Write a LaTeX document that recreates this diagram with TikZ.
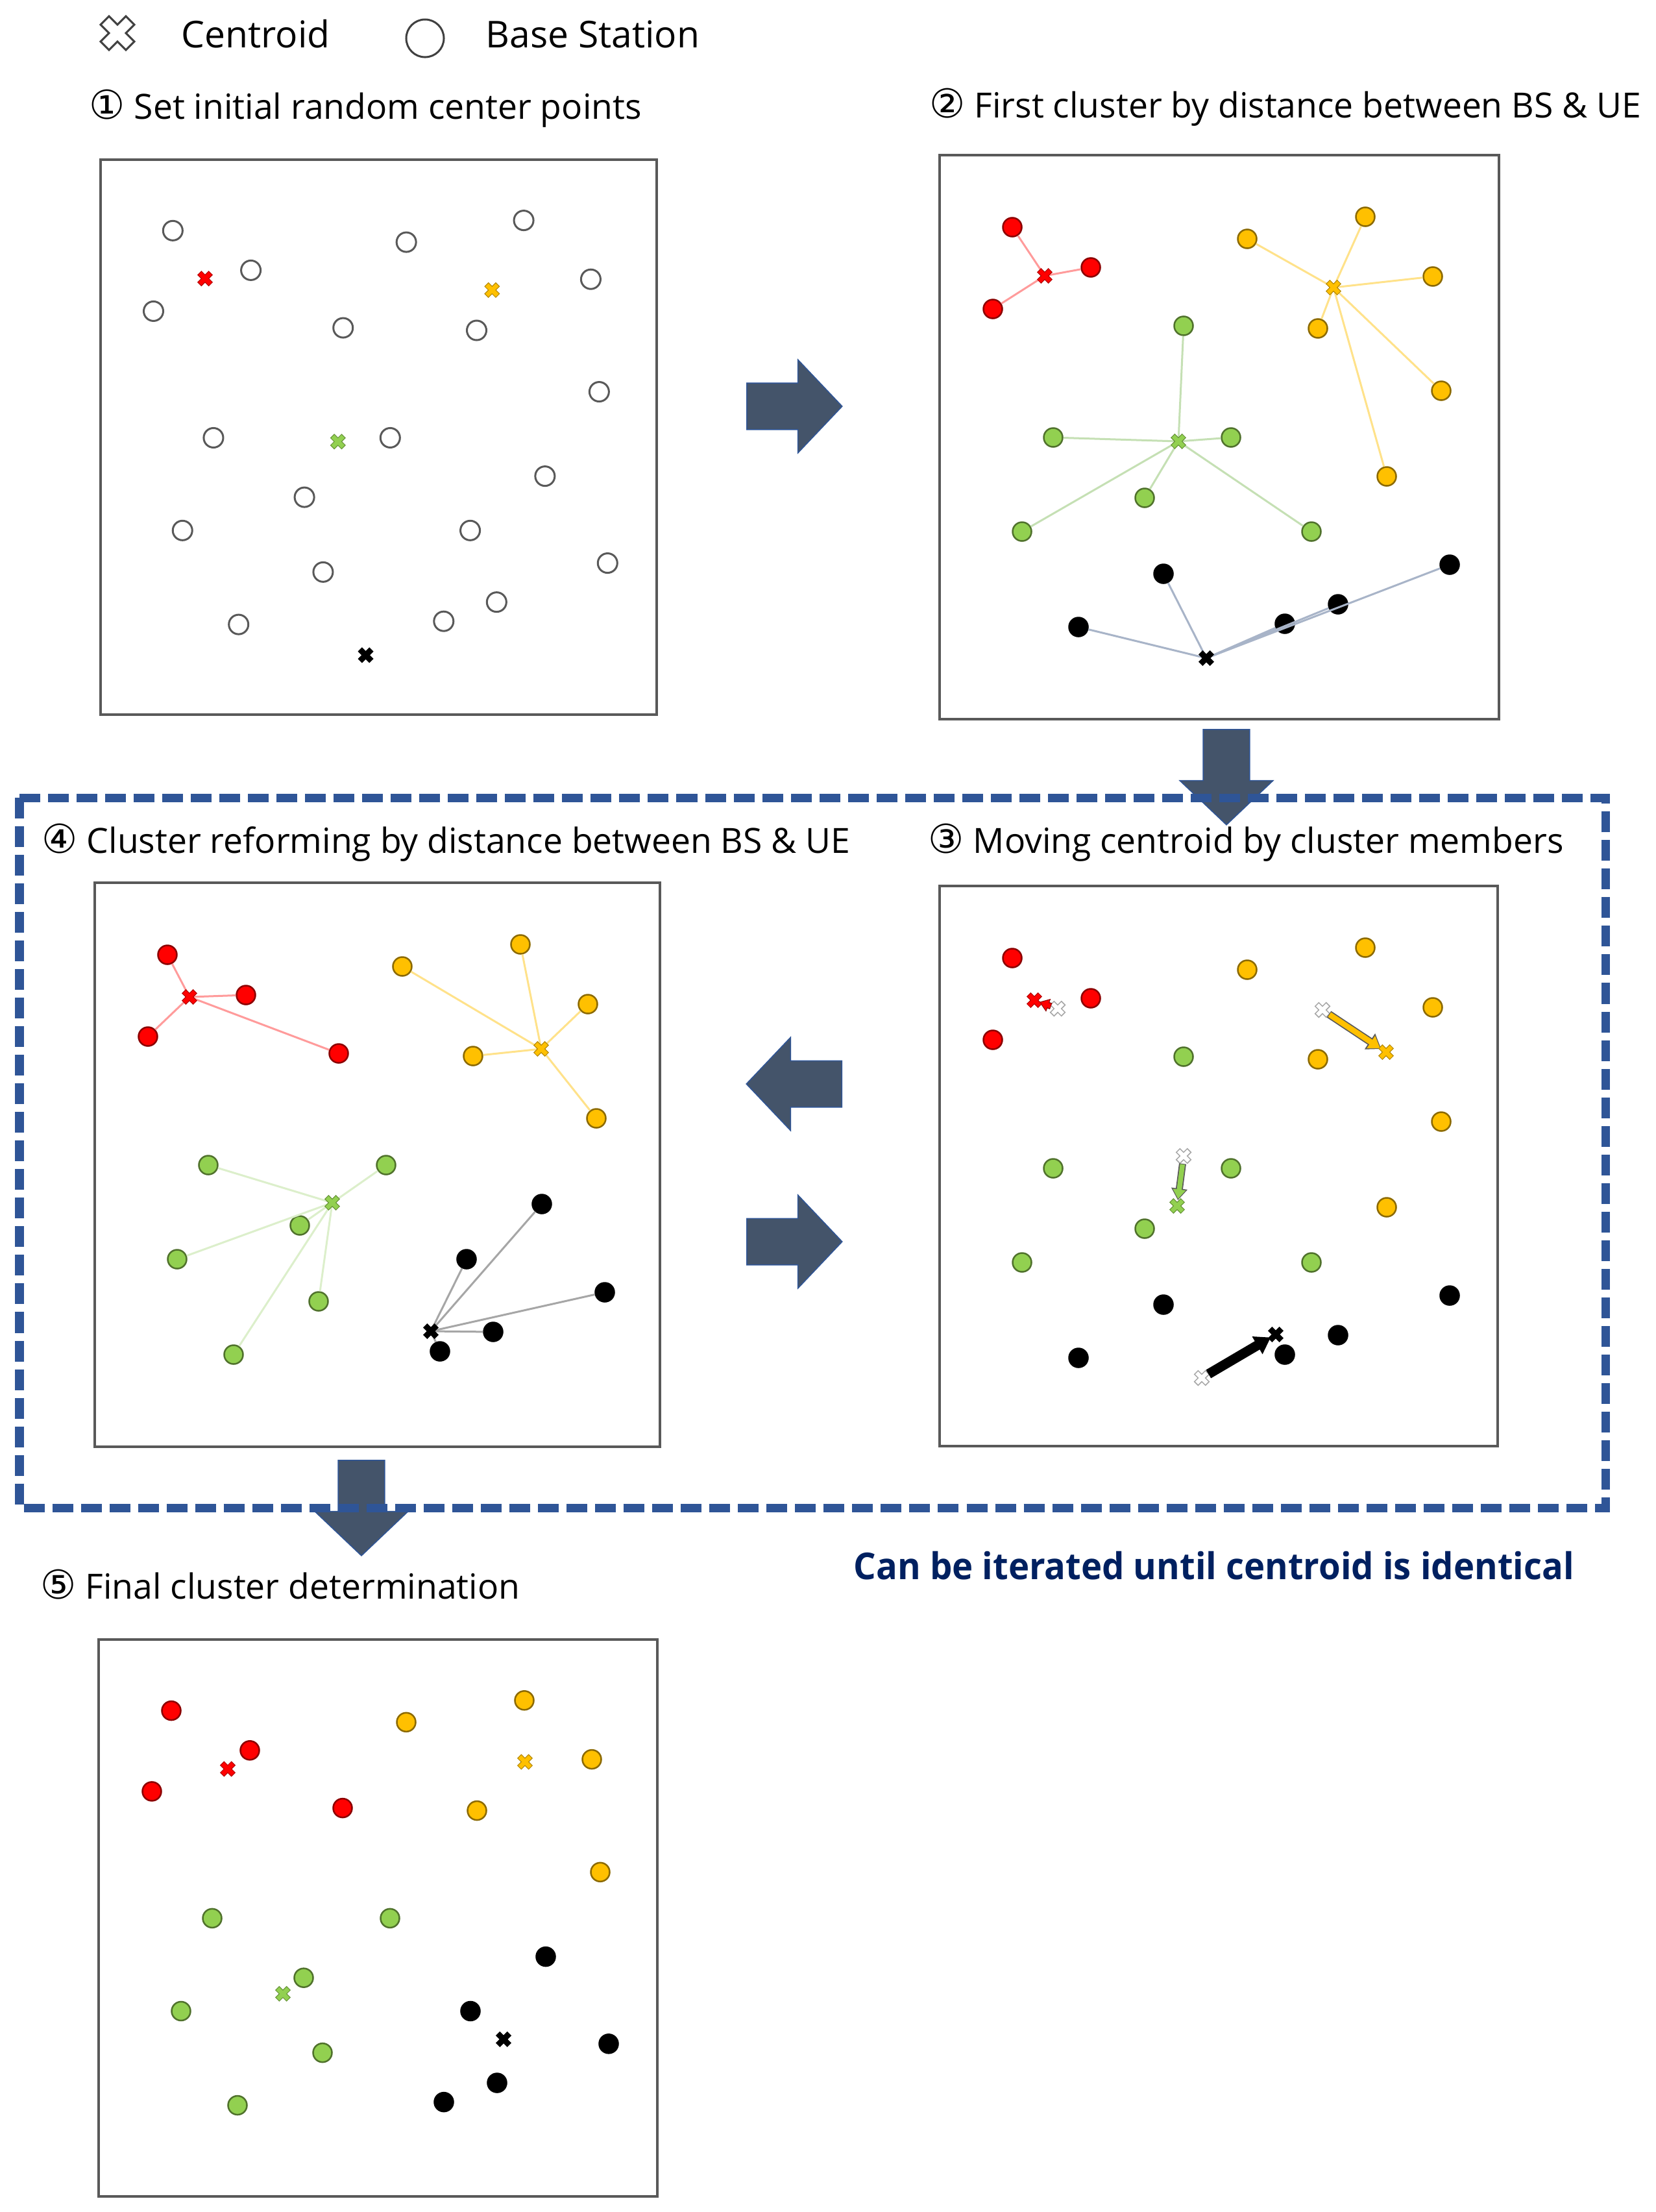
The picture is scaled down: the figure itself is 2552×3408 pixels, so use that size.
\documentclass[tikz,border=0pt]{standalone}
\usepackage{fontspec}
\setmainfont{Open Sans}
\newfontfamily\circfont{DejaVu Sans}
\usetikzlibrary{arrows.meta,shapes.arrows}
\definecolor{cred}{HTML}{FF0000}
\definecolor{corange}{HTML}{FFC000}
\definecolor{cgreen}{HTML}{92D050}
\definecolor{cblack}{HTML}{000000}
\definecolor{framec}{HTML}{595959}
\definecolor{flowc}{HTML}{44546A}
\definecolor{flowe}{HTML}{2F5597}
\definecolor{dashc}{HTML}{2F5597}
\definecolor{navy}{HTML}{002060}
\definecolor{lred}{HTML}{FF9B9B}
\definecolor{lorange}{HTML}{FFE28A}
\definecolor{lgreen}{HTML}{C5E0B4}
\definecolor{lgreenb}{HTML}{DCEFCB}
\definecolor{lblue}{HTML}{A8B4C8}
\definecolor{lgray}{HTML}{A6A6A6}
\def\bsA{1/112/111,2/474/129,3/656/95,4/233/173,5/760/187,6/82/237,7/376/263,8/583/267,9/773/363,10/175/435,11/449/435,12/689/495,13/316/528,14/127/580,15/573/580,16/786/631,17/345/645,18/614/692,19/214/727,20/532/722}
\def\bsB{1/112/111/cred,2/474/129/corange,3/656/95/corange,4/233/173/cred,5/760/187/corange,6/82/237/cred,7/376/263/cgreen,8/583/267/corange,9/773/363/corange,10/175/435/cgreen,11/449/435/cgreen,12/689/495/corange,13/316/528/cgreen,14/127/580/cgreen,15/573/580/cgreen,16/786/631/cblack,17/345/645/cblack,18/614/692/cblack,19/214/727/cblack,20/532/722/cblack}
\def\bsD{1/112/111/cred,2/474/129/corange,3/656/95/corange,4/233/173/cred,5/760/187/corange,6/82/237/cred,7/376/263/cred,8/583/267/corange,9/773/363/corange,10/175/435/cgreen,11/449/435/cgreen,12/689/495/cblack,13/316/528/cgreen,14/127/580/cgreen,15/573/580/cblack,16/786/631/cblack,17/345/645/cgreen,18/614/692/cblack,19/214/727/cgreen,20/532/722/cblack}
\newcommand\circd[1]{{\circfont\fontsize{17.5}{20}\selectfont #1}}
\tikzset{
  pics/xmark/.style={code={\path[pic actions, rotate=45] (-4,-12) -- (4,-12) -- (4,-4) -- (12,-4) -- (12,4) -- (4,4) -- (4,12) -- (-4,12) -- (-4,4) -- (-12,4) -- (-12,-4) -- (-4,-4) -- cycle;}},
  cx/.style={fill=#1, draw=#1!70!black, line width=0.01cm},
  oldx/.style={fill=white, draw=lgray, line width=0.015cm},
  bs/.style={circle, inner sep=0, minimum size=0.29cm, line width=0.025cm, fill=#1, draw=#1!55!black},
  bsempty/.style={circle, inner sep=0, minimum size=0.30cm, line width=0.03cm, draw=framec, fill=white},
  link/.style={line width=0.03cm, draw=#1},
  panelbox/.style={draw=framec, line width=0.04cm},
  flow/.style={single arrow, fill=flowc, draw=flowe, line width=0.015cm, inner xsep=0, inner ysep=0.35cm, minimum height=1.47cm, single arrow head extend=0.36cm, single arrow tip angle=93},
  mv/.style n args={4}{line width=#1, -{Triangle[length=#2,width=#3]}, draw=#4, fill=#4},
  ttl/.style={font=\fontsize{15.2}{18}\selectfont, inner sep=0, anchor=base west},
  leg/.style={font=\fontsize{16.2}{19}\selectfont, inner sep=0, anchor=base west},
}
\begin{document}
\begin{tikzpicture}[x=0.01cm, y=-0.01cm]
\useasboundingbox[fill=white] (0,0) rectangle (2552,3408);

% legend
\coordinate (legx) at (181,51);
\pic[fill=white, draw=black!75, line width=0.03cm, scale=2.3] at (legx) {xmark};
\node[leg] (legc) at (279,73) {Centroid};
\node[circle, draw=black!75, line width=0.03cm, minimum size=0.58cm, inner sep=0] (legbs) at (655,59) {};
\node[leg] (legb) at (748,73) {Base Station};

% titles
\node[ttl] (t1) at (137,183) {\circd{①} Set initial random center points};
\node[ttl] (t2) at (1432,181) {\circd{②} First cluster by distance between BS \& UE};
\node[ttl] (t4) at (64,1314) {\circd{④} Cluster reforming by distance between BS \& UE};
\node[ttl] (t3) at (1430,1314) {\circd{③} Moving centroid by cluster members};
\node[ttl] (t5) at (62,2463) {\circd{⑤} Final cluster determination};
\node[font=\bfseries\fontsize{16.2}{19}\selectfont, text=navy, inner sep=0, anchor=base west] (iter) at (1315,2433) {\scalebox{0.955}[1]{Can be iterated until centroid is identical}};

% ---------- panel 1
\draw[panelbox] (155,246) rectangle (1012,1101);
\begin{scope}[shift={(155,246)}, xscale=0.994, yscale=0.985]
  \foreach \n/\u/\v in \bsA {\node[bsempty] (a\n) at (\u,\v) {};}
  \coordinate (a-cr) at (162,186);
  \coordinate (a-co) at (607,204);
  \coordinate (a-cg) at (368,441);
  \coordinate (a-ck) at (411,775);
  \pic[cx=cred] at (a-cr) {xmark};
  \pic[cx=corange] at (a-co) {xmark};
  \pic[cx=cgreen] at (a-cg) {xmark};
  \pic[cx=cblack] at (a-ck) {xmark};
\end{scope}

% ---------- panel 2
\draw[panelbox] (1448,239) rectangle (2310,1108);
\begin{scope}[shift={(1448,239)}]
  \foreach \n/\u/\v/\c in \bsB {\node[bs=\c] (b\n) at (\u,\v) {};}
  \coordinate (b-cr) at (162,186);
  \coordinate (b-co) at (607,204);
  \coordinate (b-cg) at (368,441);
  \coordinate (b-ck) at (411,775);
  \foreach \m in {1,4,6} \draw[link=lred] (b-cr) -- (b\m);
  \foreach \m in {2,3,5,8,9,12} \draw[link=lorange] (b-co) -- (b\m);
  \foreach \m in {7,10,11,13,14,15} \draw[link=lgreen] (b-cg) -- (b\m);
  \foreach \m in {16,17,18,19,20} \draw[link=lblue] (b-ck) -- (b\m);
  \pic[cx=cred] at (b-cr) {xmark};
  \pic[cx=corange] at (b-co) {xmark};
  \pic[cx=cgreen] at (b-cg) {xmark};
  \pic[cx=cblack] at (b-ck) {xmark};
\end{scope}

% ---------- panel 3
\draw[panelbox] (1448,1365) rectangle (2308,2228);
\begin{scope}[shift={(1448,1365)}]
  \foreach \n/\u/\v/\c in \bsB {\node[bs=\c] (c\n) at (\u,\v) {};}
  \coordinate (c-or) at (182,189);
  \coordinate (c-oo) at (590,191);
  \coordinate (c-og) at (376,416);
  \coordinate (c-ok) at (404,758);
  \coordinate (c-nr) at (146,176);
  \coordinate (c-no) at (688,256);
  \coordinate (c-ng) at (366,493);
  \coordinate (c-nk) at (518,691);
  \pic[oldx] at (c-or) {xmark};
  \pic[oldx] at (c-oo) {xmark};
  \pic[oldx] at (c-og) {xmark};
  \pic[oldx] at (c-ok) {xmark};
  \draw[mv={0.10cm}{0.15cm}{0.20cm}{red!55!black}, shorten <=0.11cm, shorten >=0.08cm] (c-or) -- (c-nr);
  \draw[mv={0.07cm}{0.12cm}{0.16cm}{cred}, shorten <=0.12cm, shorten >=0.10cm] (c-or) -- (c-nr);
  \draw[mv={0.12cm}{0.21cm}{0.28cm}{black!65}, shorten <=0.12cm, shorten >=0.09cm] (c-oo) -- (c-no);
  \draw[mv={0.085cm}{0.17cm}{0.22cm}{corange}, shorten <=0.13cm, shorten >=0.11cm] (c-oo) -- (c-no);
  \draw[mv={0.11cm}{0.18cm}{0.24cm}{black!65}, shorten <=0.12cm, shorten >=0.09cm] (c-og) -- (c-ng);
  \draw[mv={0.075cm}{0.145cm}{0.19cm}{cgreen}, shorten <=0.13cm, shorten >=0.11cm] (c-og) -- (c-ng);
  \draw[mv={0.15cm}{0.24cm}{0.30cm}{black}, shorten <=0.12cm, shorten >=0.09cm] (c-ok) -- (c-nk);
  \pic[cx=cred] at (c-nr) {xmark};
  \pic[cx=corange] at (c-no) {xmark};
  \pic[cx=cgreen] at (c-ng) {xmark};
  \pic[cx=cblack] at (c-nk) {xmark};
\end{scope}

% ---------- panel 4
\draw[panelbox] (146,1360) rectangle (1017,2229);
\begin{scope}[shift={(146,1360)}]
  \foreach \n/\u/\v/\c in \bsD {\node[bs=\c] (d\n) at (\u,\v) {};}
  \coordinate (d-cr) at (146,176);
  \coordinate (d-co) at (688,256);
  \coordinate (d-cg) at (366,493);
  \coordinate (d-ck) at (518,691);
  \foreach \m in {1,4,6,7} \draw[link=lred] (d-cr) -- (d\m);
  \foreach \m in {2,3,5,8,9} \draw[link=lorange] (d-co) -- (d\m);
  \foreach \m in {10,11,13,14,17,19} \draw[link=lgreenb] (d-cg) -- (d\m);
  \foreach \m in {12,15,16,18,20} \draw[link=lgray] (d-ck) -- (d\m);
  \pic[cx=cred] at (d-cr) {xmark};
  \pic[cx=corange] at (d-co) {xmark};
  \pic[cx=cgreen] at (d-cg) {xmark};
  \pic[cx=cblack] at (d-ck) {xmark};
\end{scope}

% ---------- panel 5
\draw[panelbox] (152,2526) rectangle (1013,3384);
\begin{scope}[shift={(152,2526)}, yscale=0.987]
  \foreach \n/\u/\v/\c in \bsD {\node[bs=\c] (e\n) at (\u,\v) {};}
  \coordinate (e-cr) at (199,202);
  \coordinate (e-co) at (657,191);
  \coordinate (e-cg) at (284,553);
  \coordinate (e-ck) at (624,624);
  \pic[cx=cred] at (e-cr) {xmark};
  \pic[cx=corange] at (e-co) {xmark};
  \pic[cx=cgreen] at (e-cg) {xmark};
  \pic[cx=cblack] at (e-ck) {xmark};
\end{scope}

% ---------- flow arrows
\node[flow, anchor=tail] (f12) at (1150,626) {};
\node[flow, rotate=-90, anchor=tail] (f23) at (1890,1123) {};
\node[flow, rotate=180, anchor=tail] (f34) at (1298,1670) {};
\node[flow, anchor=tail] (f43) at (1150,1913) {};
\node[flow, rotate=-90, anchor=tail] (f45) at (557,2249) {};

% ---------- iteration box
\draw[draw=dashc, line width=0.13cm, dash pattern=on 0.32cm off 0.12cm] (30,1229) rectangle (2474,2323);
\end{tikzpicture}
\end{document}
